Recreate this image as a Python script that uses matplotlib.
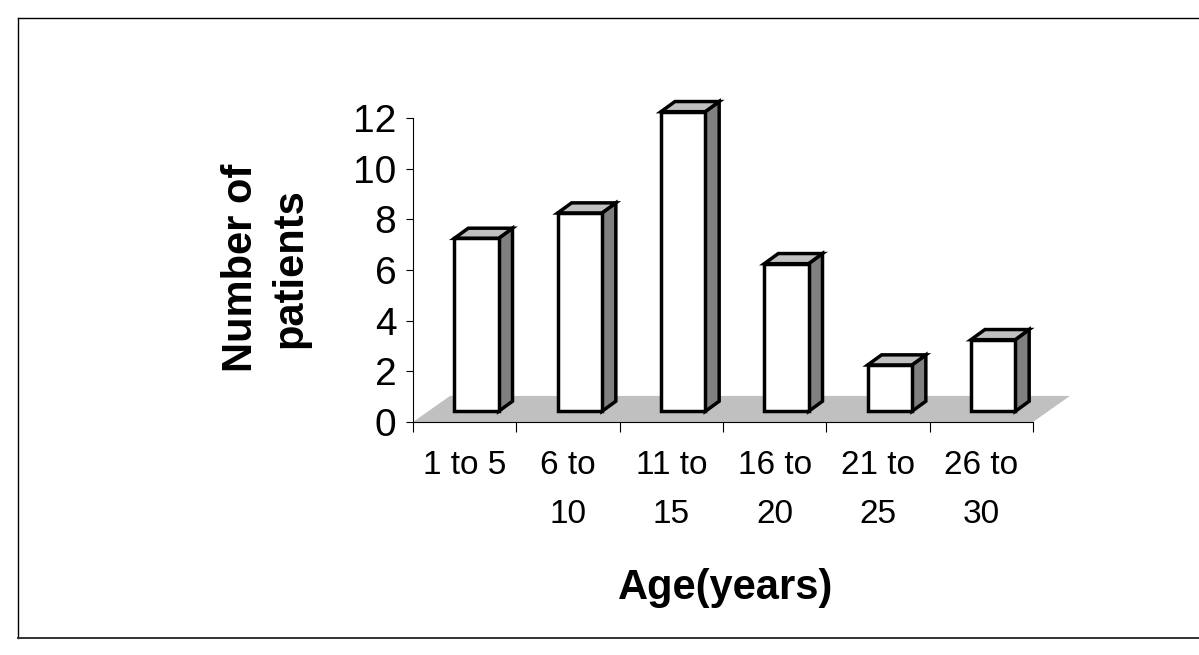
import matplotlib
matplotlib.use("Agg")
import matplotlib.pyplot as plt
from matplotlib.patches import Polygon, Rectangle
from matplotlib.lines import Line2D

# ---- data ----
categories = ["1 to 5", "6 to\n10", "11 to\n15", "16 to\n20", "21 to\n25", "26 to\n30"]
patients = [7, 8, 12, 6, 2, 3]
y_ticks = [0, 2, 4, 6, 8, 10, 12]
x_title = "Age(years)"
y_title = "Number of\npatients"

W, H = 1199, 655
fig = plt.figure(figsize=(W / 100, H / 100), dpi=100)
fig.patch.set_facecolor("white")

def px(x, y):
    return (x / W, 1 - y / H)

# axes placed so that x 0..6 -> px 413..1033, y 0..12 -> px 422..118
x0, x1, yb, yt = 413, 1033, 422, 118
ax = fig.add_axes([x0 / W, 1 - yb / H, (x1 - x0) / W, (yb - yt) / H])
ax.set_xlim(0, len(categories))
ax.set_ylim(0, 12)
ax.set_facecolor("none")

for s in ["top", "right"]:
    ax.spines[s].set_visible(False)
for s in ["left", "bottom"]:
    ax.spines[s].set_linewidth(0.8)
    ax.spines[s].set_color("black")

# y axis ticks
ax.set_yticks(y_ticks)
ax.set_yticklabels([str(t) for t in y_ticks], fontsize=28, family="Liberation Sans")
ax.tick_params(axis="y", direction="out", length=5, width=0.8, pad=7)

# x axis: boundary ticks (major, no label) and centered labels (minor)
n = len(categories)
ax.set_xticks(range(n + 1))
ax.set_xticklabels([""] * (n + 1))
ax.tick_params(axis="x", which="major", direction="out", length=7, width=0.8)
ax.set_xticks([i + 0.5 for i in range(n)], minor=True)
ax.set_xticklabels(categories, minor=True, fontsize=24, family="Liberation Sans",
                   linespacing=1.75)
ax.tick_params(axis="x", which="minor", length=0, pad=20)

# 3D-like floor
floor_dx, floor_dy = 0.358, 1.03
floor = Polygon([(0, 0), (n, 0), (n + floor_dx, floor_dy), (floor_dx, floor_dy)],
                closed=True, facecolor="#c0c0c0", edgecolor="none", clip_on=False, zorder=1)
ax.add_patch(floor)

# bars
bar_left, bar_w = 0.40, 0.428
bar_base, top_off = 0.42, 0.25
sdx, sdy = 0.135, 0.40
lw = 2.5
for i, v in enumerate(patients):
    L = i + bar_left
    R = L + bar_w
    T = v + top_off
    B = bar_base
    side = Polygon([(R, B), (R + sdx, B + sdy), (R + sdx, T + sdy), (R, T)], closed=True,
                   facecolor="#808080", edgecolor="black", lw=lw, joinstyle="miter",
                   clip_on=False, zorder=2)
    top = Polygon([(L, T), (L + sdx, T + sdy), (R + sdx, T + sdy), (R, T)], closed=True,
                  facecolor="#c0c0c0", edgecolor="black", lw=lw, joinstyle="miter",
                  clip_on=False, zorder=2)
    front = Rectangle((L, B), bar_w, T - B, facecolor="white", edgecolor="black", lw=lw,
                      joinstyle="miter", clip_on=False, zorder=3)
    ax.add_patch(side)
    ax.add_patch(top)
    ax.add_patch(front)

# titles
fig.text(*px(726, 588), x_title, fontsize=30, fontweight="bold", family="Liberation Sans",
         ha="center", va="center")
fig.text(*px(266, 268), y_title, fontsize=30, fontweight="bold", family="Liberation Sans",
         ha="center", va="center", rotation=90, multialignment="center", linespacing=1.3)

# outer border (left, top, bottom)
bx0, by0, by1 = 17.5, 17.5, 638
fig.add_artist(Line2D([bx0 / W, 1.0], [1 - by0 / H, 1 - by0 / H], transform=fig.transFigure,
                      color="black", lw=1.0))
fig.add_artist(Line2D([bx0 / W, bx0 / W], [1 - by0 / H, 1 - by1 / H], transform=fig.transFigure,
                      color="black", lw=1.0))
fig.add_artist(Line2D([bx0 / W, 1.0], [1 - by1 / H, 1 - by1 / H], transform=fig.transFigure,
                      color="#333333", lw=1.4))

fig.savefig("out.png", dpi=100, facecolor="white")
